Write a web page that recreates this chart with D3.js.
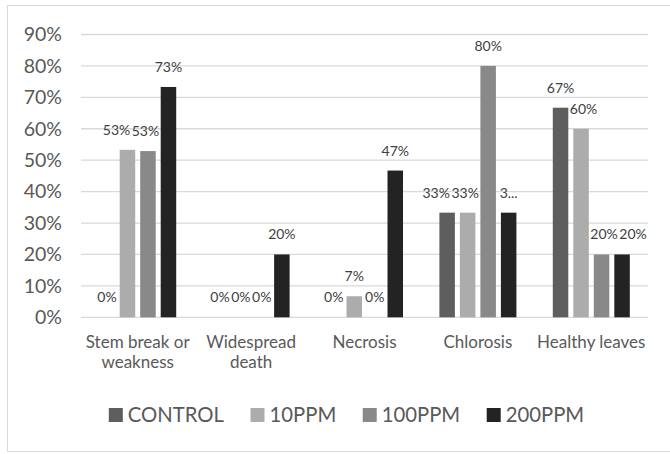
<!DOCTYPE html>
<html>
<head>
<meta charset="utf-8">
<script src="https://cdn.jsdelivr.net/npm/d3@7"></script>
<style>
  body { margin: 0; background: #fff; }
  svg { display: block; font-family: Lato, "Open Sans", sans-serif; }
</style>
</head>
<body>
<svg id="chart" width="670" height="454"></svg>
<script>
// chart data
const categories = ["Stem break or weakness", "Widespread death", "Necrosis", "Chlorosis", "Healthy leaves"];
const seriesNames = ["CONTROL", "10PPM", "100PPM", "200PPM"];
const control = [0, 0, 0, 33.3, 66.7];
const ppm10 = [53.3, 0, 6.7, 33.3, 60];
const ppm100 = [52.9, 0, 0, 80, 20];
const ppm200 = [73.3, 20, 46.7, 33.3, 20];
// excel cut one label short, keep it as it shows
const labelOverride200 = [null, null, null, "3...", null];
const yTicks = [0, 10, 20, 30, 40, 50, 60, 70, 80, 90];

const seriesValues = [control, ppm10, ppm100, ppm200];
const seriesOverrides = [[], [], [], labelOverride200];
const colors = ["#5e5e5e", "#acacac", "#898989", "#232323"];

const svg = d3.select("#chart");

// outer chart border
svg.append("rect")
  .attr("x", 7.5).attr("y", 5.5)
  .attr("width", 680).attr("height", 446)
  .attr("fill", "#fff")
  .attr("stroke", "#d9d9d9");

const plot = { left: 81, right: 648, top: 34.5, bottom: 317.3 };

const x0 = d3.scaleBand().domain(categories).range([plot.left, plot.right]);
const x1 = d3.scaleBand().domain(seriesNames)
  .range([0, x0.bandwidth()])
  .paddingInner(0.244)
  .paddingOuter(0.887);
const y = d3.scaleLinear().domain([0, 90]).range([plot.bottom, plot.top]);

// gridlines
svg.append("g")
  .selectAll("line")
  .data(yTicks)
  .join("line")
  .attr("x1", plot.left).attr("x2", plot.right)
  .attr("y1", (d) => y(d)).attr("y2", (d) => y(d))
  .attr("stroke", "#d9d9d9")
  .attr("stroke-width", 1.3);

// y axis labels
const yAxis = svg.append("g")
  .attr("transform", `translate(${plot.left},0)`)
  .call(d3.axisLeft(y).tickValues(yTicks).tickFormat((d) => d + "%").tickSize(0).tickPadding(19));
yAxis.select(".domain").remove();
yAxis.selectAll("text")
  .attr("fill", "#595959")
  .style("font-size", "19.5px")
  .style("font-family", "Lato, sans-serif");

// flatten data
const bars = [];
categories.forEach((c, ci) => {
  seriesNames.forEach((s, si) => {
    const v = seriesValues[si][ci];
    bars.push({
      cat: c, ci, si, value: v,
      label: seriesOverrides[si][ci] || Math.round(v) + "%",
    });
  });
});

svg.append("g")
  .selectAll("rect")
  .data(bars)
  .join("rect")
  .attr("x", (d) => x0(d.cat) + x1(seriesNames[d.si]))
  .attr("y", (d) => y(d.value))
  .attr("width", x1.bandwidth())
  .attr("height", (d) => y(0) - y(d.value))
  .attr("fill", (d) => colors[d.si]);

// data labels, then nudge them so they don't sit on bars or each other
const labelG = svg.append("g");
const labels = labelG.selectAll("text")
  .data(bars)
  .join("text")
  .attr("text-anchor", "middle")
  .attr("fill", "#404040")
  .style("font-size", "14px")
  .text((d) => d.label);

bars.forEach((d) => {
  d.bx0 = x0(d.cat) + x1(seriesNames[d.si]);
  d.bx1 = d.bx0 + x1.bandwidth();
  d.btop = y(d.value);
});
labels.each(function (d) {
  d.w = this.getComputedTextLength();
  d.cx = (d.bx0 + d.bx1) / 2;
  d.base = d.btop - 15;
  d.top = d.base - 11;
  d.bot = d.base + 2;
});

const pad = 1.5;
for (let it = 0; it < 300; it++) {
  bars.forEach((L) => {
    bars.forEach((B) => {
      if (B === L || B.ci !== L.ci) return;
      if (!(L.top < y(0) && L.bot > B.btop)) return;
      const l0 = L.cx - L.w / 2, l1 = L.cx + L.w / 2;
      if (l0 < B.bx1 + pad && l1 > B.bx0 - pad) {
        if (L.cx < (B.bx0 + B.bx1) / 2) L.cx -= l1 - (B.bx0 - pad);
        else L.cx += B.bx1 + pad - l0;
      }
    });
  });
  bars.forEach((A, i) => {
    bars.forEach((B, j) => {
      if (j <= i || A.ci !== B.ci) return;
      if (!(A.top < B.bot && A.bot > B.top)) return;
      const ov = (A.w + B.w) / 2 + pad - Math.abs(A.cx - B.cx);
      if (ov > 0) {
        const dir = A.cx <= B.cx ? 1 : -1;
        A.cx -= dir * ov / 2;
        B.cx += dir * ov / 2;
      }
    });
  });
}

labels.attr("x", (d) => d.cx).attr("y", (d) => d.base);

// category labels, wrapped to the band width
const catG = svg.append("g");
categories.forEach((c) => {
  const t = catG.append("text")
    .attr("x", x0(c) + x0.bandwidth() / 2)
    .attr("y", 348)
    .attr("text-anchor", "middle")
    .attr("fill", "#595959")
    .style("font-size", "17px");
  const words = c.split(" ");
  let line = [];
  let tspan = t.append("tspan").attr("x", x0(c) + x0.bandwidth() / 2);
  words.forEach((w) => {
    line.push(w);
    tspan.text(line.join(" "));
    if (tspan.node().getComputedTextLength() > x0.bandwidth() - 4 && line.length > 1) {
      line.pop();
      tspan.text(line.join(" "));
      line = [w];
      tspan = t.append("tspan")
        .attr("x", x0(c) + x0.bandwidth() / 2)
        .attr("dy", 19.5)
        .text(w);
    }
  });
});

// legend
const legend = svg.append("g");
const items = legend.selectAll("g")
  .data(seriesNames)
  .join("g");
items.append("rect")
  .attr("width", 14).attr("height", 14)
  .attr("y", 408)
  .attr("fill", (d, i) => colors[i]);
items.append("text")
  .attr("x", 19)
  .attr("y", 422)
  .attr("fill", "#595959")
  .style("font-size", "20.3px")
  .text((d) => d);

let pos = 0;
const offsets = [];
items.each(function () {
  offsets.push(pos);
  const tw = d3.select(this).select("text").node().getComputedTextLength();
  pos += 19 + tw + 26.5;
});
const total = pos - 26.5;
const startX = 346.5 - total / 2;
items.attr("transform", (d, i) => `translate(${startX + offsets[i]},0)`);
</script>
</body>
</html>
